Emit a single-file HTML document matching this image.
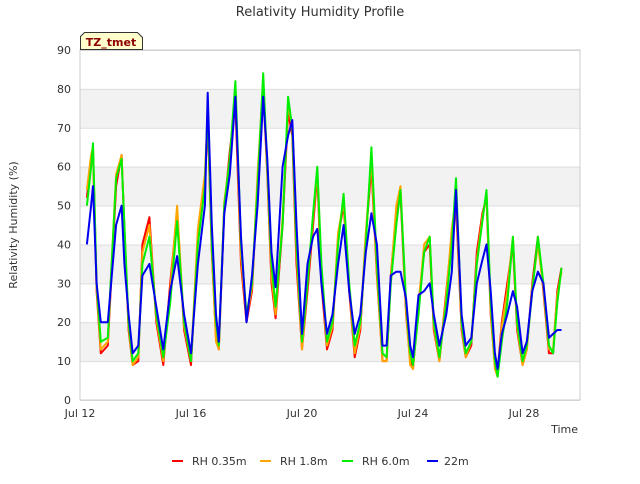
<!DOCTYPE html>
<html><head><meta charset="utf-8"><style>
body{margin:0;background:#fff;font-family:"DejaVu Sans","Liberation Sans",sans-serif;}
svg text{font-family:"DejaVu Sans","Liberation Sans",sans-serif;}
</style></head><body>
<svg id="chart" width="640" height="480" xmlns="http://www.w3.org/2000/svg">
<rect width="640" height="480" fill="#fff"/>
<text x="320" y="16" text-anchor="middle" font-size="13" fill="#333">Relativity Humidity Profile</text>
<g id="bands"></g>
<g id="grid"></g>
<rect x="80" y="50" width="500" height="350" fill="none" stroke="#ccc"/>
<g id="yticks"></g>
<g id="xticks"></g>
<g id="series"></g>
<text transform="translate(17,225) rotate(-90)" text-anchor="middle" font-size="11" fill="#333">Relativity Humidity (%)</text>
<text x="578" y="433" text-anchor="end" font-size="11" fill="#333">Time</text>
<g>
<path d="M80.5,49.5 L80.5,36.5 L84.5,32.5 L137.5,32.5 L142.5,37.5 L142.5,49.5 Z" fill="#ffffcc" stroke="#333"/>
<text x="111" y="46" text-anchor="middle" font-size="11" font-weight="bold" fill="#8b0000">TZ_tmet</text>
</g>
<g id="legend"></g>
</svg>
<script>
const times=[12.25,12.4,12.47,12.6,12.75,13.0,13.3,13.5,13.6,13.75,13.9,14.1,14.25,14.5,14.75,15.0,15.25,15.5,15.75,16.0,16.25,16.5,16.6,16.75,16.9,17.0,17.2,17.4,17.6,17.8,18.0,18.2,18.4,18.6,18.75,18.9,19.05,19.3,19.5,19.65,19.8,20.0,20.2,20.4,20.55,20.7,20.9,21.1,21.3,21.5,21.7,21.9,22.1,22.3,22.5,22.7,22.9,23.05,23.2,23.4,23.55,23.75,23.9,24.0,24.2,24.4,24.6,24.75,24.95,25.2,25.4,25.55,25.75,25.9,26.1,26.3,26.5,26.65,26.8,26.95,27.05,27.2,27.4,27.6,27.75,27.95,28.1,28.3,28.5,28.7,28.9,29.05,29.2,29.35];
const rh035=[52,62,64,28,12, 14,55,63,44,18,9, 10,40,47,20, 9,30,48,18, 9,42,57,72,38,16, 13,49,64,76,35, 20,28,56,80,58,30, 21,45,74,68,35, 13,28,45,58,30,13, 18,42,50,28,11, 18,42,60,32,10, 10,32,48,53,22,10, 8,25,38,40,18,10, 28,42,50,18,11, 14,38,48,52,22,9, 7,20,30,40,18,9, 13,30,42,28,12, 12,28,34];
const rh18=[54,63,65,29,13, 15,58,63,44,19,9, 11,38,45,21, 10,28,50,19, 10,44,58,74,39,15, 13,51,62,80,37, 21,29,58,82,59,32, 22,47,76,70,38, 13,30,47,59,32,14, 19,43,51,29,12, 19,43,62,33,10, 10,31,50,55,23,9, 8,24,40,42,19,10, 27,44,52,19,11, 15,36,47,53,23,8, 6,19,28,42,19,9, 13,29,40,29,13, 13,27,33];
const rh60=[50,60,66,30,15, 16,57,62,45,20,10, 12,35,42,22, 11,25,46,20, 10,40,55,75,40,20, 14,50,62,82,40, 22,30,55,84,60,35, 24,45,78,70,40, 15,30,48,60,35,15, 20,40,53,30,14, 20,40,65,35,12, 11,30,45,54,25,12, 9,22,38,42,20,11, 25,40,57,20,12, 15,35,46,54,25,10, 6,15,25,42,20,10, 14,28,42,30,14, 12,25,34];
const rh22=[40,50,55,30,20, 20,45,50,35,22,12, 14,32,35,24, 13,28,37,22, 12,35,50,79,45,22, 15,48,58,78,42, 20,32,50,78,62,38, 29,60,68,72,45, 17,35,42,44,30,17, 22,35,45,28,17, 22,38,48,40,14, 14,32,33,33,26,14, 11,27,28,30,22,14, 22,33,54,22,14, 16,30,36,40,28,12, 8,17,22,28,24,12, 15,28,33,30,16, 17,18,18];
const yTicks=[0,10,20,30,40,50,60,70,80,90];
const xTickDays=[12,16,20,24,28];
const xTickLabels=["Jul 12","Jul 16","Jul 20","Jul 24","Jul 28"];
const seriesNames=["RH 0.35m","RH 1.8m","RH 6.0m","22m"];

const NS="http://www.w3.org/2000/svg";
const X=d=>80+(d-12)*27.75;
const Y=v=>400-v*350/90;
function mk(tag,attrs,parent){const e=document.createElementNS(NS,tag);for(const k in attrs)e.setAttribute(k,attrs[k]);parent.appendChild(e);return e;}
const bands=document.getElementById('bands'),grid=document.getElementById('grid'),yt=document.getElementById('yticks'),xt=document.getElementById('xticks'),sg=document.getElementById('series'),lg=document.getElementById('legend');
for(let v=10;v<90;v+=20){const r=mk('rect',{x:80,y:Y(v+10),width:500,height:Y(v)-Y(v+10),fill:'#f2f2f2'},bands);

}
yTicks.forEach(v=>{const l=mk('line',{x1:80,x2:580,y1:Y(v)+0.5,y2:Y(v)+0.5,stroke:'#ddd'},grid);


const t=mk('text',{x:71,y:Y(v)+4,'text-anchor':'end','font-size':'11',fill:'#333'},yt);t.textContent=v;

});
xTickDays.forEach((d,i)=>{const t=mk('text',{x:X(d),y:417,'text-anchor':'middle','font-size':'11',fill:'#333'},xt);t.textContent=xTickLabels[i];

});
const data=[rh035,rh18,rh60,rh22],colors=['#ff0000','#ffa500','#00ee00','#0000ee'];
data.forEach((arr,i)=>{const d=arr.map((v,j)=>(j?'L':'M')+X(times[j]).toFixed(1)+','+Y(v).toFixed(1)).join(' ');
const p=mk('path',{d:d,fill:'none',stroke:colors[i],'stroke-width':2,'stroke-linejoin':'round'},sg);

});
const lx=[172,260,342,427],tx=[192,280,362,444];
seriesNames.forEach((n,i)=>{const g=mk('g',{},lg);


mk('line',{x1:lx[i],x2:lx[i]+11,y1:461,y2:461,stroke:colors[i],'stroke-width':2},g);
const t=mk('text',{x:tx[i],y:465,'font-size':'11',fill:'#333'},g);t.textContent=n;});
</script>
</body></html>
